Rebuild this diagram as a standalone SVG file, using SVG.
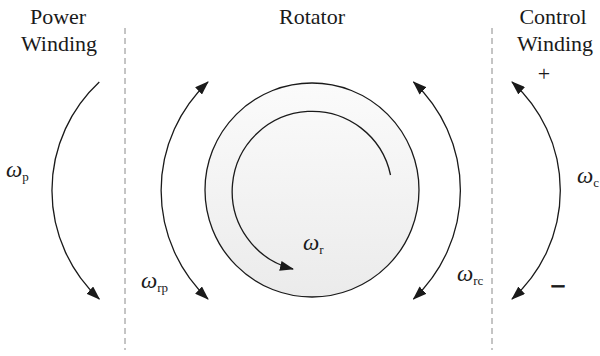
<svg xmlns="http://www.w3.org/2000/svg" width="600" height="356" viewBox="0 0 600 356">
<defs>
<style>
.t{font-family:"Liberation Serif","Times New Roman",serif;font-size:22px;fill:#1a1a1a;text-anchor:middle}
.w{font-family:"Liberation Serif","Times New Roman",serif;font-size:23px;font-style:italic;fill:#1a1a1a}
.s{font-size:13px;font-style:normal}
.arc{fill:none;stroke:#1a1a1a;stroke-width:1.3}
.dash{stroke:#8a8a8a;stroke-width:1;stroke-dasharray:6 4}
</style>
<marker id="ah" markerUnits="userSpaceOnUse" viewBox="0 0 14 10" markerWidth="14" markerHeight="10" refX="13" refY="5" orient="auto-start-reverse">
<path d="M0,0 L14,5 L0,10 z" fill="#1a1a1a"/>
</marker>
<linearGradient id="g" x1="0" y1="0" x2="0" y2="1">
<stop offset="0" stop-color="#fbfbfb"/>
<stop offset="1" stop-color="#ebebeb"/>
</linearGradient>
</defs>
<rect width="600" height="356" fill="#fff"/>
<g id="dividers">
<line class="dash" x1="125" y1="28" x2="125" y2="350"/>
<line class="dash" x1="492" y1="28" x2="492" y2="350"/>
</g>
<g id="rotator">
<circle cx="312" cy="190" r="107" fill="url(#g)" stroke="#1a1a1a" stroke-width="1.3"/>
</g>
<g id="labels">
<text class="t" x="58" y="24">Power</text>
<text class="t" x="59" y="51">Winding</text>
<text class="t" x="312" y="24">Rotator</text>
<text class="t" x="553" y="24">Control</text>
<text class="t" x="555" y="51">Winding</text>
<text class="t" x="544" y="81">+</text>
<text class="t" x="558" y="292" style="font-weight:bold;font-size:24px;stroke:#1a1a1a;stroke-width:0.9">–</text>
</g>
<g id="connectors">
<path class="arc" d="M99.3 82 A148 148 0 0 0 99.3 299" marker-end="url(#ah)"/>
<path class="arc" d="M208 82 A149 149 0 0 0 208 299" marker-start="url(#ah)" marker-end="url(#ah)"/>
<path class="arc" d="M413.5 82 A149 149 0 0 1 413.5 299" marker-start="url(#ah)" marker-end="url(#ah)"/>
<path class="arc" d="M512 82 A146 146 0 0 1 512 299" marker-start="url(#ah)" marker-end="url(#ah)"/>
<path class="arc" d="M390.5 175 A80 80 0 1 0 293 269" marker-end="url(#ah)"/>
</g>
<g id="omega">
<text class="w" x="6" y="177">ω<tspan class="s" dy="4">p</tspan></text>
<text class="w" x="141" y="288">ω<tspan class="s" dy="4">rp</tspan></text>
<text class="w" x="303" y="250">ω<tspan class="s" dy="4">r</tspan></text>
<text class="w" x="457" y="281">ω<tspan class="s" dy="4">rc</tspan></text>
<text class="w" x="577" y="183">ω<tspan class="s" dy="4">c</tspan></text>
</g>
</svg>
